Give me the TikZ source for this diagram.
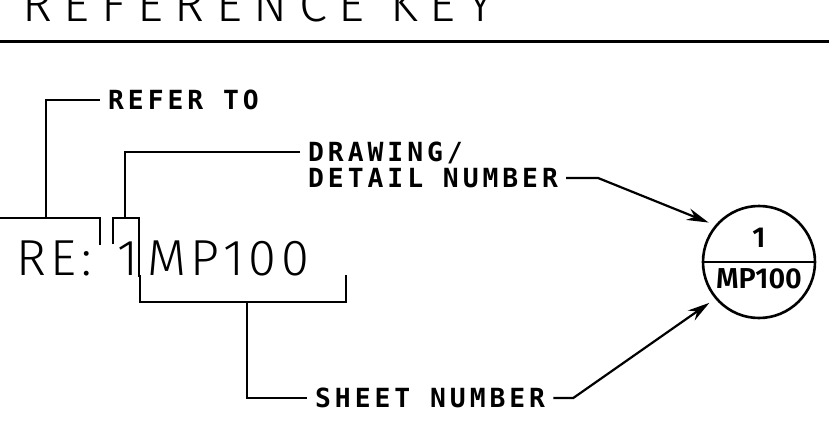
\documentclass[tikz,border=0pt]{standalone}
\usepackage{fontspec}
\usetikzlibrary{arrows.meta, positioning, calc}
\newfontfamily\titlefont{Fira Sans Light}[LetterSpace=23]
\newfontfamily\thinfont{Fira Sans Light}[LetterSpace=9]
\newfontfamily\tagfont{DejaVu Sans Mono Bold}[LetterSpace=15]
\newfontfamily\keyfont{Fira Sans SemiBold}

\begin{document}
\begin{tikzpicture}[
    leader/.style={line width=0.085cm},
    callout/.style={->, >={Stealth[length=1.1cm, width=0.6cm]}, line width=0.11cm, shorten >=0.35cm},
    tag/.style={font=\tagfont\fontsize{37.5}{37}\selectfont, inner xsep=0.4cm, inner ysep=0pt, align=left},
    big/.style={font=\thinfont\fontsize{72}{72}\selectfont, inner sep=0pt},
    keytext/.style={font=\keyfont\fontsize{41}{41}\selectfont, inner sep=0pt}
  ]
      \useasboundingbox (0, 0) rectangle (41.45, -21.25);

      \node[big, font=\titlefont\fontsize{72}{72}\selectfont, anchor=base west] (title) at (1.1, -1.1) {REFERENCE KEY};
      \draw[line width=0.15cm] (0, -2.1) -- (41.45, -2.1);

      \node[big, anchor=base west] (re) at (0.8, -13.75) {RE:};
      \node[big, anchor=base] (num) at (6.4, -13.75) {1};
      \node[big, anchor=base west] (sheet) at (7.35, -13.75) {MP100};

      \draw[leader] (0, -10.9) -- (5, -10.9) -- (5, -12.25);
      \draw[leader] (5.65, -12.2) -- (5.65, -10.9) -- (6.95, -10.9) -- (6.95, -13.85);
      \draw[leader] (7, -13.75) -- (7, -15.1) -- (17.3, -15.1) -- (17.3, -13.75);

      \coordinate (refer tip) at (2.3, -10.9);
      \coordinate (dwg tip) at (6.25, -10.9);
      \coordinate (sheet tip) at (12.35, -15.1);

      \node[tag, anchor=west] (refer) at (5, -5) {REFER TO};
      \node[tag, anchor=west] (dwg) at (15, -8.25) {DRAWING/\\DETAIL NUMBER};
      \node[tag, anchor=west] (sht) at (15.35, -19.9) {SHEET NUMBER};

      \node[circle, draw, line width=0.13cm, minimum size=5.6cm, inner sep=0pt] (key) at (37.95, -13.1) {};
      \draw[line width=0.13cm] (key.west) -- (key.east);
      \node[keytext] (keynum) at ([yshift=1.2cm]key.center) {1};
      \node[keytext] (keysheet) at ([yshift=-0.85cm]key.center) {MP100};

      \draw[leader] (refer.west) -| (refer tip);
      \draw[leader] ([yshift=0.65cm]dwg.west) -| (dwg tip);
      \draw[leader] (sheet tip) |- (sht.west);

      \draw[callout] ([yshift=-0.65cm]dwg.east) -- ++(1.6, 0) -- (key.140);
      \draw[callout] (sht.east) -- ++(1, 0) -- (key.220);

    \end{tikzpicture}
\end{document}
